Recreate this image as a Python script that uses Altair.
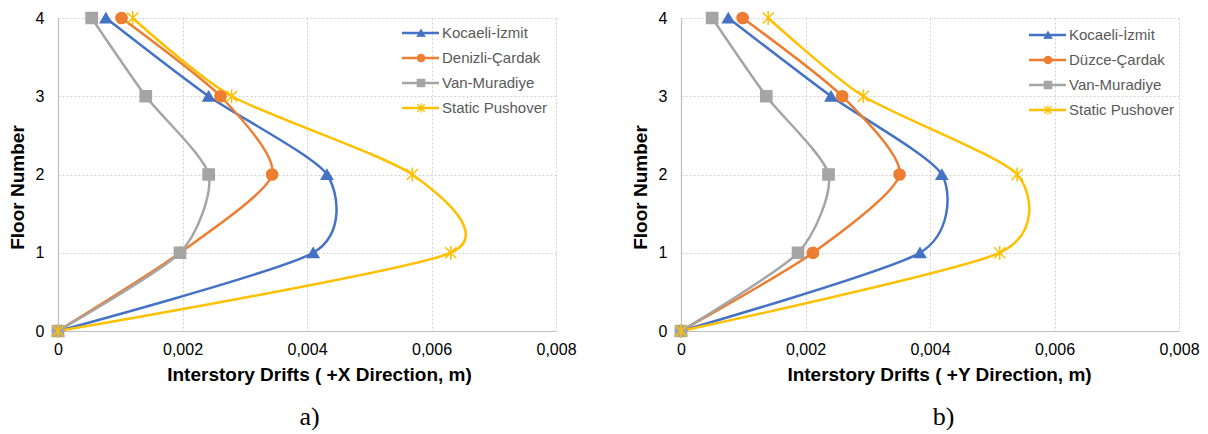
import altair as alt
import pandas as pd

floors = [0, 1, 2, 3, 4]
keys = ["k", "d", "v", "s"]
names_x = ["Kocaeli-İzmit", "Denizli-Çardak", "Van-Muradiye", "Static Pushover"]
names_y = ["Kocaeli-İzmit", "Düzce-Çardak", "Van-Muradiye", "Static Pushover"]

# +X direction drifts (floor 0..4)
x_kocaeli = [0.0, 0.00410, 0.00432, 0.00242, 0.00077]
x_denizli = [0.0, 0.00196, 0.00344, 0.00261, 0.00102]
x_van = [0.0, 0.00196, 0.00242, 0.00141, 0.00054]
x_static = [0.0, 0.00631, 0.00569, 0.00279, 0.00120]

# +Y direction drifts (floor 0..4)
y_kocaeli = [0.0, 0.00384, 0.00419, 0.00241, 0.00076]
y_duzce = [0.0, 0.00212, 0.00351, 0.00259, 0.00099]
y_van = [0.0, 0.00188, 0.00237, 0.00137, 0.00050]
y_static = [0.0, 0.00512, 0.00540, 0.00293, 0.00140]

x_ticks = [0, 0.002, 0.004, 0.006, 0.008]
colors = ["#4472C4", "#ED7D31", "#A5A5A5", "#FFC000"]
ASTER = "M-1,-1L1,1M1,-1L-1,1M0,-1.25L0,1.25"
shapes = ["triangle-up", "circle", "square", ASTER]

FONT = "Liberation Sans"


def panel(series, names, xtitle, tag, title_x, tag_dx, leg_x0, leg_y0):
    rows = []
    for key, name, xs in zip(keys, names, series):
        for f, v in zip(floors, xs):
            rows.append({"key": key, "name": name, "floor": f, "drift": v})
    df = pd.DataFrame(rows)
    leg = pd.DataFrame({"key": keys, "name": names, "rank": list(range(len(keys)))})

    xscale = alt.Scale(domain=[0, 0.008], nice=False, zero=True)
    yscale = alt.Scale(domain=[0, 4], nice=False)
    color = alt.Color("key:N", scale=alt.Scale(domain=keys, range=colors), legend=None)
    stroke = alt.Stroke("key:N", scale=alt.Scale(domain=keys, range=colors), legend=None)
    shape = alt.Shape("key:N", scale=alt.Scale(domain=keys, range=shapes), legend=None)

    xenc = alt.X(
        "drift:Q", scale=xscale,
        axis=alt.Axis(
            values=x_ticks, title=xtitle, labelFlush=False, labelPadding=10,
            labelExpr="datum.value == 0 ? '0' : replace(format(datum.value, '.3f'), '.', ',')",
            titleX=title_x, titleY=43, titleBaseline="middle", titleAnchor="start", titleAlign="center",
        ),
    )
    yenc = alt.Y(
        "floor:Q", scale=yscale,
        axis=alt.Axis(values=floors, title="Floor Number", labelPadding=14, format="d",
                      titleX=-41, titleY=169, titleBaseline="middle", titleAlign="center", titleAngle=-90),
    )
    ynoax = alt.Y("floor:Q", scale=yscale, axis=None)

    lines = alt.Chart(df).mark_line(interpolate="cardinal", tension=0.3, strokeWidth=2.5).encode(
        x=xenc, y=yenc, color=color, order=alt.Order("floor:Q")
    )
    points = alt.Chart(df).mark_point(filled=True, size=125, opacity=1, strokeWidth=1.5).encode(
        x=alt.X("drift:Q", scale=xscale), y=ynoax, color=color, stroke=stroke, shape=shape
    )

    ly = alt.Y("rank:Q", scale=alt.Scale(domain=[0, 3], range=[leg_y0, leg_y0 + 75]), axis=None)
    lrule = alt.Chart(leg).mark_rule(strokeWidth=2.5).encode(
        x=alt.value(leg_x0), x2=alt.value(leg_x0 + 37), y=ly, color=color
    )
    lpts = alt.Chart(leg).mark_point(filled=True, size=55, opacity=1, strokeWidth=1.2).encode(
        x=alt.value(leg_x0 + 19), y=ly, color=color, stroke=stroke, shape=shape
    )
    ltext = alt.Chart(leg).mark_text(
        align="left", baseline="middle", fontSize=15, font=FONT, color="#595959"
    ).encode(x=alt.value(leg_x0 + 40), y=ly, text="name:N")

    return alt.layer(lines, points, lrule, lpts, ltext).resolve_scale(y="independent").properties(
        width=498, height=313,
        title=alt.TitleParams(tag, orient="bottom", anchor="middle", frame="group",
                              font="Liberation Serif", fontSize=26, fontWeight="normal",
                              color="#000000", offset=20, dx=tag_dx),
    )


left = panel([x_kocaeli, x_denizli, x_van, x_static], names_x,
             "Interstory Drifts ( +X Direction, m)", "a)", 261, 2.5, 344, 15)
right = panel([y_kocaeli, y_duzce, y_van, y_static], names_y,
              "Interstory Drifts ( +Y Direction, m)", "b)", 258, 13.5, 348, 17)

chart = alt.hconcat(left, right, spacing=54).properties(
    padding={"left": 0, "top": 0, "right": 0, "bottom": 0}
).configure_view(stroke=None).configure_axis(
    domainColor="#bfbfbf", domainWidth=1.2,
    gridColor="#d0d0d0", gridDash=[2, 2], gridWidth=1,
    ticks=False, tickSize=0,
    labelFont=FONT, labelFontSize=16, labelColor="#000000",
    titleFont=FONT, titleFontSize=19, titleFontWeight="bold", titleColor="#000000",
)

chart.save("out.html", embed_options={"renderer": "svg", "actions": False})
